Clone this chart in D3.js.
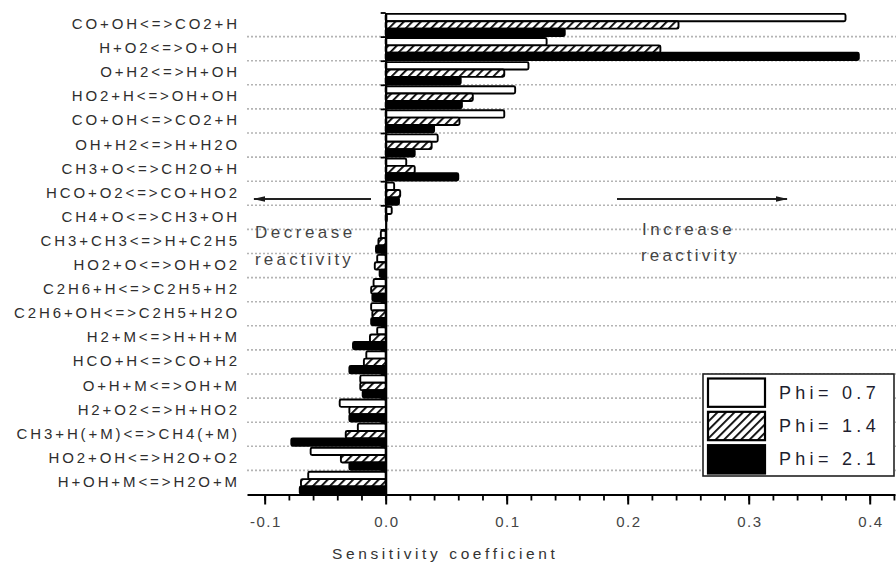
<!DOCTYPE html>
<html>
<head>
<meta charset="utf-8">
<script src="https://cdn.jsdelivr.net/npm/d3@7"></script>
<style>
  html, body { margin: 0; padding: 0; background: #fff; }
  svg { display: block; font-family: "Liberation Sans", Arial, sans-serif; }
</style>
</head>
<body>
<svg id="chart" width="896" height="572"></svg>
<script>
// Reactions, top to bottom
const reactions = [
  "CO+OH<=>CO2+H",
  "H+O2<=>O+OH",
  "O+H2<=>H+OH",
  "HO2+H<=>OH+OH",
  "CO+OH<=>CO2+H ",
  "OH+H2<=>H+H2O",
  "CH3+O<=>CH2O+H",
  "HCO+O2<=>CO+HO2",
  "CH4+O<=>CH3+OH",
  "CH3+CH3<=>H+C2H5",
  "HO2+O<=>OH+O2",
  "C2H6+H<=>C2H5+H2",
  "C2H6+OH<=>C2H5+H2O",
  "H2+M<=>H+H+M",
  "HCO+H<=>CO+H2",
  "O+H+M<=>OH+M",
  "H2+O2<=>H+HO2",
  "CH3+H(+M)<=>CH4(+M)",
  "HO2+OH<=>H2O+O2",
  "H+OH+M<=>H2O+M"
];

// Sensitivity coefficients for each equivalence ratio
const phi07 = [0.380, 0.133, 0.118, 0.107, 0.098, 0.043, 0.017, 0.007, 0.005, -0.004,
               -0.007, -0.010, -0.012, -0.007, -0.016, -0.021, -0.038, -0.023, -0.062, -0.064];
const phi14 = [0.242, 0.227, 0.098, 0.072, 0.061, 0.038, 0.024, 0.012, 0.001, -0.006,
               -0.009, -0.012, -0.011, -0.013, -0.018, -0.021, -0.030, -0.033, -0.037, -0.070];
const phi21 = [0.148, 0.391, 0.062, 0.063, 0.040, 0.024, 0.060, 0.011, 0.000, -0.008,
               -0.005, -0.011, -0.012, -0.027, -0.030, -0.019, -0.030, -0.078, -0.030, -0.071];

const seriesNames = ["Phi= 0.7", "Phi= 1.4", "Phi= 2.1"];
const seriesFills = ["#ffffff", "url(#hatch)", "#000000"];
const xTickValues = [-0.1, 0.0, 0.1, 0.2, 0.3, 0.4];
const xTickLabels = ["-0.1", "0.0", "0.1", "0.2", "0.3", "0.4"];
const xTitle = "Sensitivity coefficient";
const leftNote = ["Decrease", "reactivity"];
const rightNote = ["Increase", "reactivity"];

const seriesValues = [phi07, phi14, phi21];

const svg = d3.select("#chart");

// hatch pattern for the middle series
const defs = svg.append("defs");
const pat = defs.append("pattern")
  .attr("id", "hatch")
  .attr("patternUnits", "userSpaceOnUse")
  .attr("width", 6).attr("height", 6)
  .attr("patternTransform", "rotate(45)");
pat.append("rect").attr("width", 6).attr("height", 6).attr("fill", "#fff");
pat.append("line").attr("x1", 0).attr("y1", 0).attr("x2", 0).attr("y2", 6)
  .attr("stroke", "#000").attr("stroke-width", 3.6);

// scales
const x = d3.scaleLinear().domain([-0.1146, 0.4209]).range([247, 895]);
const y = d3.scaleBand().domain(reactions).range([12.5, 494.5]).padding(0);
const ySub = d3.scaleBand().domain(d3.range(seriesNames.length))
  .range([1.4, y.bandwidth() - 0.6]).padding(0);
const yIdx = d3.scaleLinear().domain([0, reactions.length]).range([12.5, 494.5]);

// dotted gridlines between reactions
svg.append("g")
  .selectAll("line")
  .data(d3.range(1, reactions.length))
  .join("line")
  .attr("x1", 247).attr("x2", 896)
  .attr("y1", d => yIdx(d)).attr("y2", d => yIdx(d))
  .attr("stroke", "#b4b4b4")
  .attr("stroke-width", 1.6)
  .attr("stroke-dasharray", "2,2");

// bars
const barData = [];
reactions.forEach((r, i) => {
  seriesValues.forEach((vals, s) => barData.push({ r, s, v: vals[i] }));
});
svg.append("g")
  .selectAll("rect")
  .data(barData)
  .join("rect")
  .attr("x", d => x(Math.min(0, d.v)))
  .attr("width", d => Math.abs(x(d.v) - x(0)))
  .attr("y", d => y(d.r) + ySub(d.s))
  .attr("height", ySub.bandwidth())
  .attr("rx", 1.5)
  .attr("fill", d => seriesFills[d.s])
  .attr("stroke", "#000")
  .attr("stroke-width", 1.9);

// y axis at zero with ticks at reaction boundaries
const yAxis = svg.append("g")
  .attr("transform", `translate(${x(0)},0)`)
  .call(d3.axisLeft(yIdx).tickValues(d3.range(reactions.length + 1))
    .tickFormat("").tickSizeInner(5).tickSizeOuter(0));
yAxis.select(".domain").attr("stroke", "#000").attr("stroke-width", 2.2);
yAxis.selectAll(".tick line").attr("stroke", "#000").attr("stroke-width", 1.8);

// reaction labels
svg.append("g")
  .selectAll("text")
  .data(reactions)
  .join("text")
  .attr("x", 240)
  .attr("y", d => y(d) + y.bandwidth() / 2 + 4.5)
  .attr("text-anchor", "end")
  .attr("font-size", 15)
  .attr("letter-spacing", "2.9px")
  .attr("fill", "#2e2e2e")
  .text(d => d.trim());

// x axis: minor and major ticks
const xBase = 494.5;
const minor = svg.append("g")
  .attr("transform", `translate(0,${xBase})`)
  .call(d3.axisBottom(x).tickValues(d3.range(-0.1, 0.4201, 0.02))
    .tickFormat("").tickSizeInner(6).tickSizeOuter(0));
minor.select(".domain").remove();
minor.selectAll(".tick line").attr("stroke", "#000").attr("stroke-width", 1.8);

const major = svg.append("g")
  .attr("transform", `translate(0,${xBase})`)
  .call(d3.axisBottom(x).tickValues(xTickValues)
    .tickFormat((d, i) => xTickLabels[i]).tickSizeInner(10).tickSizeOuter(0).tickPadding(12));
major.select(".domain").attr("stroke", "#000").attr("stroke-width", 2.2);
major.selectAll(".tick line").attr("stroke", "#000").attr("stroke-width", 2);
major.selectAll(".tick text")
  .attr("font-size", 15)
  .attr("font-family", "Liberation Sans, Arial, sans-serif")
  .attr("letter-spacing", "1.5px")
  .attr("dx", "0.05em")
  .attr("fill", "#444");

// axis title
svg.append("text")
  .attr("x", 332).attr("y", 559)
  .attr("font-size", 15.5)
  .attr("letter-spacing", "3.6px")
  .attr("fill", "#333")
  .text(xTitle);

// direction notes and arrows
const noteG = svg.append("g").attr("fill", "#444").attr("font-size", 17);
noteG.append("text").attr("x", 255).attr("y", 238).attr("letter-spacing", "3.5px").text(leftNote[0]);
noteG.append("text").attr("x", 255).attr("y", 265).attr("letter-spacing", "3.2px").text(leftNote[1]);
noteG.append("text").attr("x", 642).attr("y", 235).attr("letter-spacing", "3.5px").text(rightNote[0]);
noteG.append("text").attr("x", 641).attr("y", 261).attr("letter-spacing", "3.2px").text(rightNote[1]);

defs.append("marker")
  .attr("id", "arrow")
  .attr("viewBox", "0 0 12 6")
  .attr("refX", 11).attr("refY", 3)
  .attr("markerWidth", 13).attr("markerHeight", 6)
  .attr("markerUnits", "userSpaceOnUse")
  .attr("orient", "auto")
  .append("path").attr("d", "M0,0.3 L12,3 L0,5.7 Z").attr("fill", "#1a1a1a");

svg.append("line")
  .attr("x1", 371).attr("x2", 254).attr("y1", 199).attr("y2", 199)
  .attr("stroke", "#222").attr("stroke-width", 2)
  .attr("marker-end", "url(#arrow)");
svg.append("line")
  .attr("x1", 617).attr("x2", 787).attr("y1", 199).attr("y2", 199)
  .attr("stroke", "#222").attr("stroke-width", 2)
  .attr("marker-end", "url(#arrow)");

// legend
const legend = svg.append("g");
legend.append("rect")
  .attr("x", 703).attr("y", 374).attr("width", 191).attr("height", 102)
  .attr("fill", "#fff").attr("stroke", "#222").attr("stroke-width", 1.6);
const lg = d3.scaleBand().domain(d3.range(seriesNames.length)).range([377, 473]).paddingInner(0.12);
const items = legend.selectAll("g.item")
  .data(seriesNames)
  .join("g").attr("class", "item");
items.append("rect")
  .attr("x", 708).attr("width", 57)
  .attr("y", (d, i) => lg(i) + 1.5)
  .attr("height", lg.bandwidth() - 1)
  .attr("fill", (d, i) => seriesFills[i])
  .attr("stroke", "#000").attr("stroke-width", 2.2);
items.append("text")
  .attr("x", 779)
  .attr("y", (d, i) => lg(i) + lg.bandwidth() / 2 + 7)
  .attr("font-size", 18)
  .attr("letter-spacing", "4.3px")
  .attr("fill", "#1e1e2e")
  .text(d => d);
</script>
</body>
</html>
